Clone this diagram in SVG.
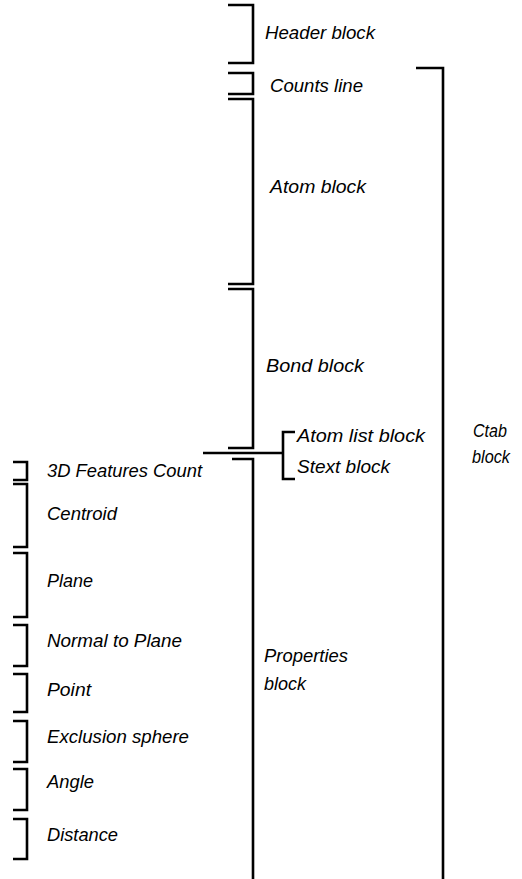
<svg xmlns="http://www.w3.org/2000/svg" width="522" height="879" viewBox="0 0 522 879">
<style>
.b{fill:none;stroke:#000;stroke-width:2.6;stroke-linecap:butt;stroke-linejoin:miter}
.t{font-family:"Liberation Sans Narrow","Liberation Sans",Arial,sans-serif;font-style:italic;font-size:19px;fill:#000}
</style>
<rect width="522" height="879" fill="#fff"/>
<g id="header"><path class="b" d="M228,5H253V63H228"/><text class="t" x="265" y="39" textLength="110" lengthAdjust="spacingAndGlyphs">Header block</text></g>
<g id="counts"><path class="b" d="M228,73H253V94H228"/><text class="t" x="270" y="92" textLength="93" lengthAdjust="spacingAndGlyphs">Counts line</text></g>
<g id="atom"><path class="b" d="M228,99H253V284H228"/><text class="t" x="270" y="193" textLength="96" lengthAdjust="spacingAndGlyphs">Atom block</text></g>
<g id="bond"><path class="b" d="M228,289H253V448H228"/><text class="t" x="266" y="372" textLength="98" lengthAdjust="spacingAndGlyphs">Bond block</text></g>
<g id="atomlist"><path class="b" d="M295,432H283V453"/><text class="t" x="297" y="442" textLength="128" lengthAdjust="spacingAndGlyphs">Atom list block</text></g>
<g id="stext"><path class="b" d="M283,453V479H295"/><text class="t" x="297" y="473" textLength="93" lengthAdjust="spacingAndGlyphs">Stext block</text></g>
<g id="properties"><path class="b" d="M232,459H253V879"/><text class="t" x="264" y="662" textLength="84" lengthAdjust="spacingAndGlyphs">Properties</text><text class="t" x="264" y="690" textLength="42" lengthAdjust="spacingAndGlyphs">block</text></g>
<g id="ctab"><path class="b" d="M416,68H443V879"/><text class="t" x="473" y="437" textLength="34" lengthAdjust="spacingAndGlyphs">Ctab</text><text class="t" x="472" y="463" textLength="38" lengthAdjust="spacingAndGlyphs">block</text></g>
<g id="feat3d"><path class="b" d="M13,462H27V480H13"/><text class="t" x="47" y="477" textLength="155" lengthAdjust="spacingAndGlyphs">3D Features Count</text></g>
<g id="centroid"><path class="b" d="M13,484H27V547H13"/><text class="t" x="47" y="520" textLength="70" lengthAdjust="spacingAndGlyphs">Centroid</text></g>
<g id="plane"><path class="b" d="M13,553H27V617H13"/><text class="t" x="47" y="587" textLength="46" lengthAdjust="spacingAndGlyphs">Plane</text></g>
<g id="normal"><path class="b" d="M13,625H27V666H13"/><text class="t" x="47" y="647" textLength="135" lengthAdjust="spacingAndGlyphs">Normal to Plane</text></g>
<g id="point"><path class="b" d="M13,674H27V712H13"/><text class="t" x="47" y="696" textLength="44" lengthAdjust="spacingAndGlyphs">Point</text></g>
<g id="exclusion"><path class="b" d="M13,721H27V762H13"/><text class="t" x="47" y="743" textLength="142" lengthAdjust="spacingAndGlyphs">Exclusion sphere</text></g>
<g id="angle"><path class="b" d="M13,769H27V810H13"/><text class="t" x="47" y="788" textLength="47" lengthAdjust="spacingAndGlyphs">Angle</text></g>
<g id="distance"><path class="b" d="M13,819H27V859H13"/><text class="t" x="47" y="841" textLength="71" lengthAdjust="spacingAndGlyphs">Distance</text></g>
<g id="connectors"><path class="b" d="M203,453H283"/></g>
</svg>
